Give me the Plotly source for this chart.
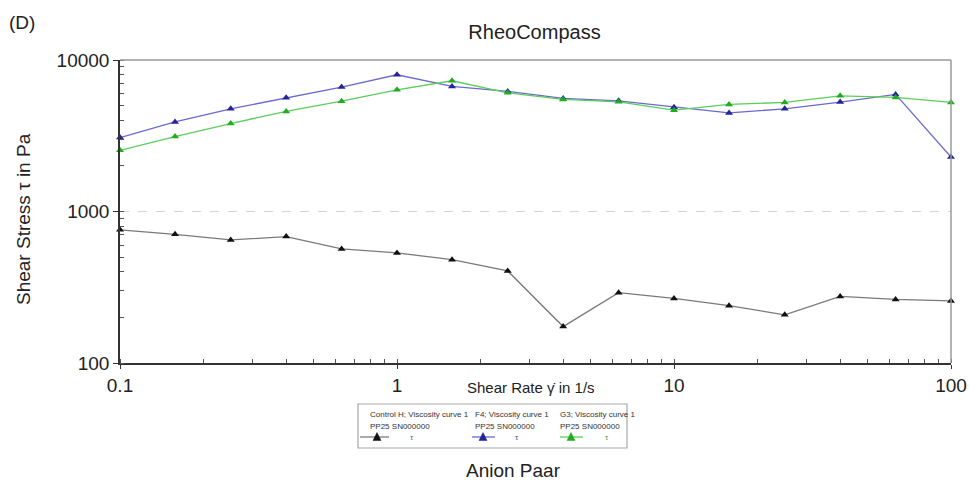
import plotly.graph_objects as go

shear_rate = [0.1, 0.158, 0.251, 0.398, 0.631, 1.0, 1.58, 2.51, 3.98, 6.31,
              10.0, 15.8, 25.1, 39.8, 63.1, 100.0]
control_h = [757, 707, 649, 683, 566, 533, 481, 405, 174, 291,
             267, 239, 208, 275, 263, 257]
f4 = [3076, 3902, 4760, 5625, 6625, 7990, 6695, 6204, 5577, 5377,
      4884, 4477, 4760, 5272, 5929, 2288]
g3 = [2535, 3124, 3809, 4575, 5352, 6358, 7295, 6073, 5491, 5294,
      4666, 5088, 5248, 5801, 5662, 5248]

series_names = ["Control H; Viscosity curve 1", "F4; Viscosity curve 1", "G3; Viscosity curve 1"]
series_sub = "PP25 SN000000"
x_ticks = [0.1, 1, 10, 100]
x_ticktext = ["0.1", "1", "10", "100"]
y_ticks = [100, 1000, 10000]
y_ticktext = ["100", "1000", "10000"]

FONT = "Arial, Liberation Sans, sans-serif"
W, H = 969, 481
L, R, T, B = 120, 18, 60, 118
PW, PH = W - L - R, H - T - B

def px(xp):
    return (xp - L) / PW

def py(yp):
    return (H - B - yp) / PH

styles = [
    dict(line="#7a7a7a", marker="#111111", tau="#666666"),
    dict(line="#6a6acc", marker="#23239a", tau="#3a3acc"),
    dict(line="#5ccc5c", marker="#22aa22", tau="#33aa33"),
]

fig = go.Figure()
for vals, name, st in zip([control_h, f4, g3], series_names, styles):
    fig.add_trace(go.Scatter(
        x=shear_rate, y=vals, name=name, mode="lines+markers",
        line=dict(color=st["line"], width=1.3),
        marker=dict(symbol="triangle-up", size=7, color=st["marker"]),
        showlegend=False, cliponaxis=False,
    ))

shapes = []
annotations = []
# gray top and right frame
shapes.append(dict(type="line", xref="paper", yref="paper", x0=0, x1=1, y0=1, y1=1,
                   line=dict(color="#9a9a9a", width=1.5)))
shapes.append(dict(type="line", xref="paper", yref="paper", x0=1, x1=1, y0=0, y1=1,
                   line=dict(color="#9a9a9a", width=1.5)))

# custom legend box
shapes.append(dict(type="rect", xref="paper", yref="paper",
                   x0=px(358), x1=px(627), y0=py(404), y1=py(448),
                   line=dict(color="#a8a8a8", width=1.2), fillcolor="white"))
cols = [dict(tx=368, l0=360, l1=389, tri=377, tau=412),
        dict(tx=473, l0=472, l1=495, tri=483, tau=517),
        dict(tx=558, l0=560, l1=583, tri=571, tau=607)]
for c, name, st in zip(cols, series_names, styles):
    annotations.append(dict(xref="paper", yref="paper", x=px(c["tx"]), y=py(414),
                            text=name, showarrow=False, xanchor="left", yanchor="middle",
                            font=dict(family=FONT, size=8, color="#333")))
    annotations.append(dict(xref="paper", yref="paper", x=px(c["tx"]), y=py(426),
                            text=series_sub, showarrow=False, xanchor="left", yanchor="middle",
                            font=dict(family=FONT, size=8, color="#333")))
    shapes.append(dict(type="line", xref="paper", yref="paper",
                       x0=px(c["l0"]), x1=px(c["l1"]), y0=py(437), y1=py(437),
                       line=dict(color=st["line"], width=1.3)))
    t = c["tri"]
    shapes.append(dict(type="path", xref="paper", yref="paper",
                       path=f"M {px(t-4)} {py(440.5)} L {px(t+4)} {py(440.5)} L {px(t)} {py(432.5)} Z",
                       fillcolor=st["marker"], line=dict(color=st["marker"], width=0.5)))
    annotations.append(dict(xref="paper", yref="paper", x=px(c["tau"]), y=py(437),
                            text="τ", showarrow=False, xanchor="center", yanchor="middle",
                            font=dict(family=FONT, size=8, color=st["tau"])))

annotations.append(dict(xref="paper", yref="paper", x=px(513), y=py(470),
                        text="Anion Paar", showarrow=False, xanchor="center", yanchor="middle",
                        font=dict(family=FONT, size=19, color="#222")))
annotations.append(dict(xref="paper", yref="paper", x=px(7), y=py(23),
                        text="(D)", showarrow=False, xanchor="left", yanchor="middle",
                        font=dict(family=FONT, size=19, color="#222")))
annotations.append(dict(xref="paper", yref="paper", x=px(531), y=py(387),
                        text="Shear Rate γ̇ in 1/s", showarrow=False, xanchor="center", yanchor="middle",
                        font=dict(family=FONT, size=15, color="#222")))
annotations.append(dict(xref="paper", yref="paper", x=px(23), y=py(219),
                        text="Shear Stress τ in Pa", showarrow=False, textangle=-90,
                        xanchor="center", yanchor="middle",
                        font=dict(family=FONT, size=19, color="#222")))

fig.update_layout(
    width=W, height=H,
    margin=dict(l=L, r=R, t=T, b=B, autoexpand=False),
    paper_bgcolor="white", plot_bgcolor="white",
    font=dict(family=FONT, color="#222"),
    title=dict(text="RheoCompass", xref="container", x=534.5 / W, xanchor="center",
               yref="container", y=1 - 31.5 / H, yanchor="middle",
               font=dict(family=FONT, size=20, color="#222")),
    shapes=shapes, annotations=annotations,
    showlegend=False,
)
fig.update_xaxes(
    type="log", range=[-1, 2], tickvals=x_ticks, ticktext=x_ticktext,
    showline=True, linecolor="#333", linewidth=1.5, automargin=False,
    ticks="outside", ticklen=4, tickcolor="#333",
    tickfont=dict(family=FONT, size=19, color="#222"),
    showgrid=False, zeroline=False,
    minor=dict(ticks="inside", ticklen=4, tickcolor="#555", dtick="D1", showgrid=False),
)
fig.update_yaxes(
    type="log", range=[2, 4], tickvals=y_ticks, ticktext=y_ticktext,
    showline=True, linecolor="#333", linewidth=1.5, automargin=False,
    ticks="outside", ticklen=5, tickcolor="#333",
    tickfont=dict(family=FONT, size=19, color="#222"),
    showgrid=True, gridcolor="#d4d4d4", griddash="dash", gridwidth=1,
    zeroline=False,
    minor=dict(ticks="inside", ticklen=4, tickcolor="#555", dtick="D1", showgrid=False),
)

fig.write_html("out.html")
